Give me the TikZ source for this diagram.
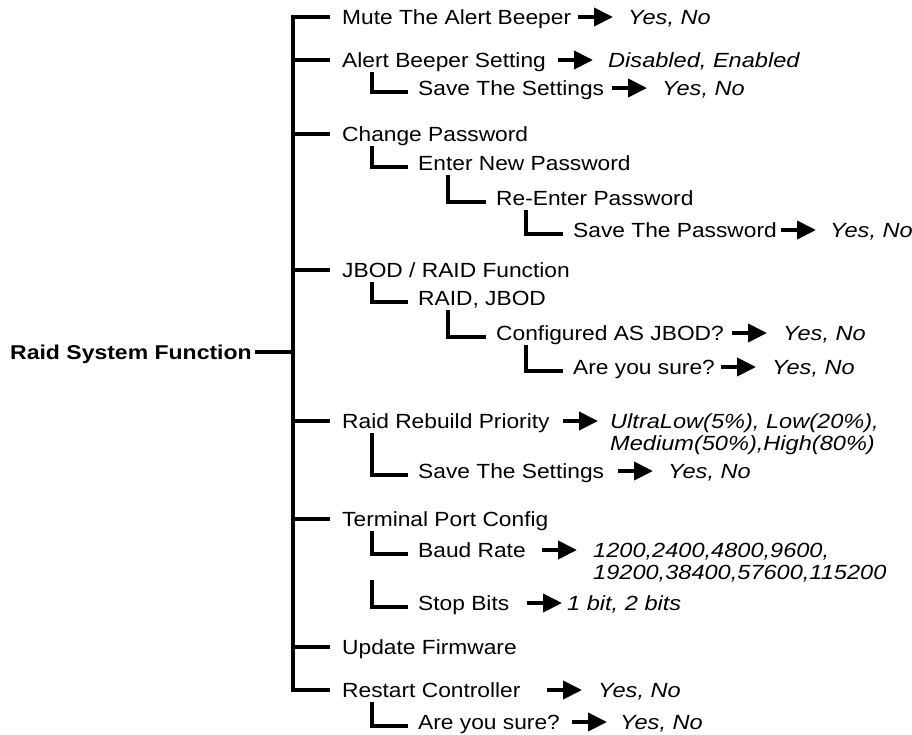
\documentclass[tikz,border=0pt]{standalone}
\usepackage{fontspec}
\setmainfont{Liberation Sans}[FakeStretch=1.11]
\newfontfamily\widefont{Liberation Sans}[FakeStretch=1.15]
\usetikzlibrary{arrows.meta}
\begin{document}
\begin{tikzpicture}[x=1pt,y=-1pt,
 lbl/.style={anchor=west,inner sep=0pt,text height=14.7pt,text depth=0pt,font=\fontsize{20.5}{24}\selectfont},
 val/.style={lbl,font=\widefont\fontsize{20.5}{24}\selectfont\itshape},
 tree/.style={line width=3.6pt,line join=miter},
 arr/.style={line width=4pt,-{Triangle[length=19pt,width=18pt]}}]
\useasboundingbox (0,0) rectangle (912,734);
\coordinate (spine) at (293,0);
\node[lbl,font=\widefont\fontsize{20}{24}\selectfont\bfseries] (root) at (10,352) {Raid System Function};
\node[lbl] (mute) at (342,17) {Mute The Alert Beeper};
\node[val] (muteV) at (628,17) {Yes, No};
\node[lbl] (abs) at (342,60) {Alert Beeper Setting};
\node[val] (absV) at (608,60) {Disabled, Enabled};
\node[lbl] (save1) at (418,88) {Save The Settings};
\node[val] (save1V) at (662,88) {Yes, No};
\node[lbl] (chg) at (342,134) {Change Password};
\node[lbl] (enp) at (418,163) {Enter New Password};
\node[lbl] (rep) at (496,198) {Re-Enter Password};
\node[lbl] (svp) at (573,230) {Save The Password};
\node[val] (svpV) at (830,230) {Yes, No};
\node[lbl] (jr) at (342,270) {JBOD / RAID Function};
\node[lbl] (rj) at (418,298) {RAID, JBOD};
\node[lbl] (cfg) at (496,333) {Configured AS JBOD?};
\node[val] (cfgV) at (783,333) {Yes, No};
\node[lbl] (sure1) at (573,367) {Are you sure?};
\node[val] (sure1V) at (772,367) {Yes, No};
\node[lbl] (rrp) at (342,421) {Raid Rebuild Priority};
\node[val] (rrpV) at (610,421) {UltraLow(5\%), Low(20\%),};
\node[val] (rrpW) at (610,443) {Medium(50\%),High(80\%)};
\node[lbl] (save2) at (418,471) {Save The Settings};
\node[val] (save2V) at (668,471) {Yes, No};
\node[lbl] (tpc) at (342,519) {Terminal Port Config};
\node[lbl] (baud) at (418,550) {Baud Rate};
\node[val] (baudV) at (593,550) {1200,2400,4800,9600,};
\node[val] (baudW) at (593,572) {19200,38400,57600,115200};
\node[lbl] (stop) at (418,603) {Stop Bits};
\node[val] (stopV) at (567,603) {1 bit, 2 bits};
\node[lbl] (upd) at (342,647) {Update Firmware};
\node[lbl] (rst) at (342,690) {Restart Controller};
\node[val] (rstV) at (598,690) {Yes, No};
\node[lbl] (sure2) at (418,722) {Are you sure?};
\node[val] (sure2V) at (620,722) {Yes, No};
% spine
\draw[tree] ([xshift=-12pt]mute.west) -- (spine |- mute.west) -- (spine |- rst.west) -- ([xshift=-12pt]rst.west);
\draw[tree] ([xshift=3pt]root.east) -- (spine |- root.east);
\foreach \n in {abs,chg,jr,rrp,tpc,upd}
  \draw[tree] (spine |- \n.west) -- ([xshift=-12pt]\n.west);
% sub-branches
\foreach \p/\c in {abs/save1,chg/enp,enp/rep,rep/svp,jr/rj,rj/cfg,cfg/sure1,rrp/save2,tpc/baud,rst/sure2}
  \draw[tree] ([xshift=30pt,yshift=-12pt]\p.west) |- ([xshift=-10pt,yshift=-4pt]\c.west);
\draw[tree] ([xshift=-46pt,yshift=-30pt]baud.west) |- ([xshift=-10pt,yshift=-4pt]stop.west);
% arrows
\foreach \b/\g in {muteV/15,absV/15,save1V/15,svpV/14,cfgV/16,sure1V/16,rrpV/12,save2V/15,baudV/16,stopV/5,rstV/16,sure2V/13}
  \draw[arr] ([xshift=-\g pt-35pt]\b.west) -- ([xshift=-\g pt]\b.west);
\end{tikzpicture}
\end{document}
